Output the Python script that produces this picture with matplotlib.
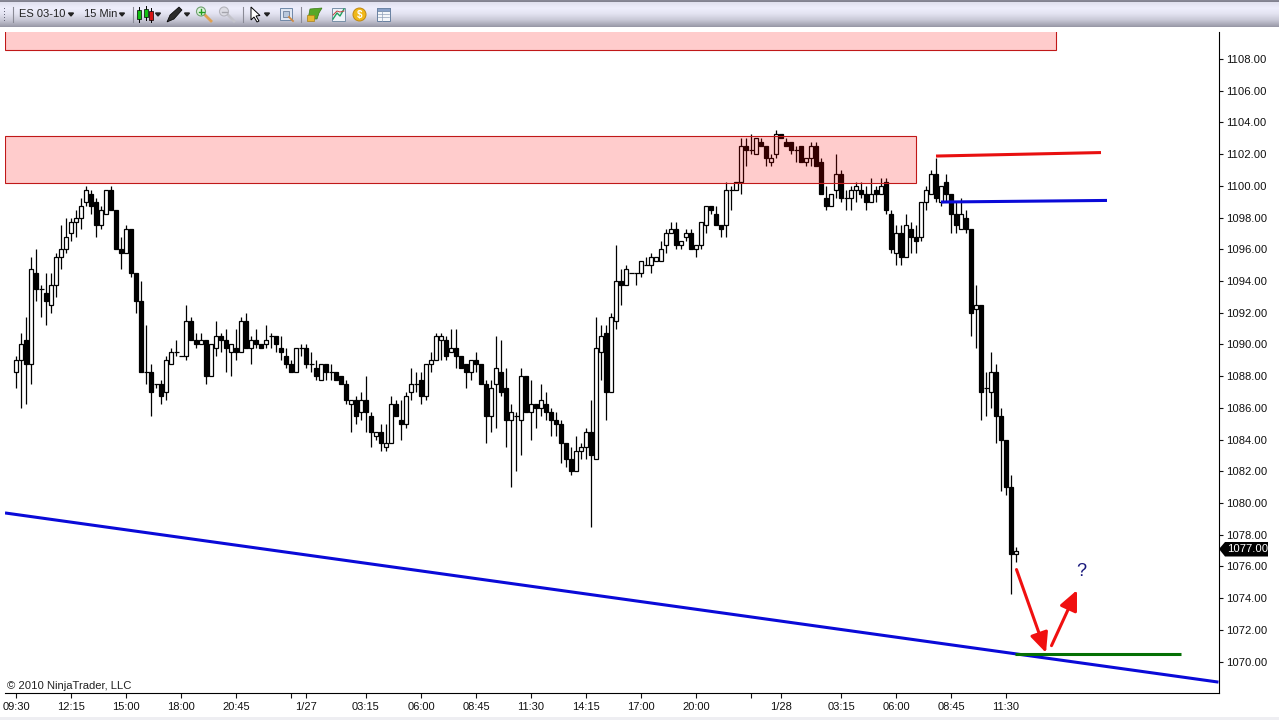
import numpy as np
import matplotlib
matplotlib.use('Agg')
from matplotlib import pyplot as plt
from matplotlib.patches import Rectangle, Polygon, Circle, FancyArrowPatch

plt.rcParams['font.family'] = ['Liberation Sans', 'DejaVu Sans']

# one row per 15 min bar: open, high, low, close
ohlc = [
    (1088.25,1089.25,1087.25,1089), (1089,1090.75,1086,1090), (1090.25,1091.75,1086.25,1088.75), (1088.75,1095.5,1087.5,1094.75),
    (1094.5,1096,1092.75,1093.5), (1093.5,1093.75,1091.75,1093.5), (1093.25,1094.5,1091.25,1092.75), (1092.5,1094.5,1092,1093.75),
    (1093.75,1095.75,1093,1095.5), (1095.5,1097.5,1094.75,1096), (1096,1098,1095.75,1096.75), (1097,1098,1096.5,1097.75),
    (1097.75,1098.5,1096.75,1098), (1098,1099.25,1097.25,1098.75), (1099,1100,1098.75,1099.75), (1099.5,1099.75,1098.25,1098.75),
    (1099,1099.25,1096.75,1097.5), (1097.5,1098.75,1097.25,1098.5), (1098.25,1099.75,1098.25,1099.75), (1099.75,1100,1098.5,1098.5),
    (1098.5,1098.5,1096,1096), (1096,1096.75,1094.75,1095.75), (1095.75,1097.5,1095.75,1097.25), (1097.25,1097.25,1094.25,1094.5),
    (1094.5,1094.5,1092,1092.75), (1092.75,1094,1088.25,1088.25), (1088.25,1091.25,1087.5,1088.25), (1088.25,1088.75,1085.5,1087),
    (1087.5,1087.5,1087.25,1087.5), (1087.5,1087.75,1086.25,1086.75), (1087,1089.25,1086.5,1089), (1088.75,1089.75,1088.75,1089.5),
    (1089.5,1090.25,1089.25,1089.5), (1089.25,1089.25,1089.25,1089.25), (1089.25,1092.5,1089,1091.5), (1091.5,1091.75,1090.25,1090.25),
    (1090.25,1090.75,1089.75,1090), (1090,1090.75,1090,1090.25), (1090.25,1090.25,1087.5,1088), (1088,1090,1088,1090),
    (1089.75,1091.5,1089.25,1090.5), (1090.5,1090.75,1089.5,1090.25), (1090.25,1091,1088.25,1089.75), (1089.5,1090,1088,1090),
    (1089.75,1091,1089,1089.5), (1089.5,1091.75,1089.5,1091.5), (1091.5,1092,1089.75,1089.75), (1089.75,1090.5,1088.75,1090.25),
    (1090.25,1091,1089.75,1090), (1090,1090,1089.75,1089.75), (1090,1091.25,1089.75,1090.25), (1090.5,1090.75,1089.75,1090.5),
    (1090.5,1090.5,1089.5,1090), (1089.75,1090.5,1089,1089.5), (1089.25,1089.75,1088.5,1088.75), (1088.75,1089,1088.25,1088.25),
    (1088.25,1089.75,1088.25,1089.75), (1089.75,1090,1089.25,1089.75), (1089.75,1090,1088.5,1088.75), (1088.75,1089.5,1088.25,1088.75),
    (1088.5,1089,1087.75,1088), (1087.75,1088.75,1087.75,1088.75), (1088.75,1088.75,1087.75,1088.25), (1088.25,1088.75,1087.75,1088.25),
    (1088.25,1088.25,1087.75,1087.75), (1088,1088,1087.5,1087.5), (1087.5,1087.75,1086.25,1086.5), (1086.25,1086.5,1084.5,1086.5),
    (1086.5,1086.75,1085,1085.5), (1085.75,1087,1085.25,1086.5), (1086.5,1088,1084.5,1085.75), (1085.5,1085.75,1083.5,1084.5),
    (1084.25,1084.5,1084,1084.5), (1084.5,1085,1083.25,1083.75), (1083.5,1085,1083.25,1083.75), (1083.75,1086.75,1083.75,1086.25),
    (1086.25,1086.5,1085.5,1085.5), (1085.25,1086.5,1084,1085), (1085,1087,1084.75,1086.75), (1087,1088.5,1086.5,1087.5),
    (1087.5,1088.25,1087,1087.5), (1087.75,1088.25,1086.25,1086.75), (1086.75,1088.75,1086.5,1088.75), (1088.75,1089.5,1088.25,1089),
    (1089,1090.75,1089,1090.5), (1090.25,1090.75,1089,1090.5), (1090.25,1090.5,1089,1089.25), (1089.5,1091,1089.5,1089.75),
    (1089.75,1091,1088.5,1089.25), (1089.25,1089.25,1088.5,1088.5), (1088.75,1088.75,1087.25,1088.25), (1088.25,1089,1087.75,1089),
    (1089,1089.5,1088.25,1088.75), (1088.75,1088.75,1087.5,1087.5), (1087.5,1087.75,1083.75,1085.5), (1085.5,1087.75,1084.5,1087.25),
    (1087.5,1090.5,1084.75,1088.5), (1088.25,1090.25,1086.75,1087), (1087.25,1088.5,1083.5,1085.25), (1085.25,1086.25,1081,1085.75),
    (1085.5,1085.75,1082,1085.5), (1085.25,1088.5,1083,1088), (1088,1088,1085.75,1085.75), (1085.75,1087.75,1084,1086.25),
    (1086.25,1086.25,1084.75,1086), (1086,1087.5,1085.5,1086.5), (1086.25,1087,1085.25,1085.75), (1085.75,1086,1084.25,1085.25),
    (1085.25,1085.75,1084.25,1085), (1085,1085.25,1082.5,1083.75), (1083.75,1083.75,1082.25,1082.75), (1082.75,1083.5,1081.75,1082),
    (1082,1084.25,1082,1083.25), (1083.25,1083.75,1082.75,1083.5), (1083.5,1084.75,1082.75,1084.5), (1084.5,1086.5,1078.5,1083),
    (1082.75,1091.75,1082.75,1089.75), (1089.5,1091.25,1087.75,1090.5), (1090.75,1091.25,1085.25,1087), (1087,1092,1087,1091.75),
    (1091.5,1096.25,1091,1094), (1094,1094.75,1092.5,1093.75), (1093.75,1095,1093.75,1094.75), (1094.5,1094.5,1094.5,1094.5),
    (1094.5,1094.5,1093.75,1094.5), (1094.5,1095.25,1094.25,1095.25), (1095,1095.5,1095,1095), (1095,1095.75,1094.5,1095.5),
    (1095.25,1095.5,1095.25,1095.5), (1095.25,1096.5,1095.25,1096), (1096.25,1097.25,1095.75,1097), (1097,1097.75,1097,1097.25),
    (1097.25,1097.75,1096,1096.25), (1096.25,1096.5,1096,1096.5), (1096.75,1097.25,1096.5,1097), (1097,1097.25,1096,1096),
    (1096,1096.25,1095.5,1096.25), (1096.25,1097.75,1096,1097.75), (1097.5,1098.75,1097,1098.75), (1098.75,1098.75,1098.25,1098.5),
    (1098.25,1098.75,1097.5,1097.5), (1097.5,1097.5,1096.75,1097.25), (1097.5,1100.25,1096.75,1099.75), (1099.75,1100,1098.5,1099.75),
    (1099.75,1100.25,1099.75,1100.25), (1100.25,1103,1099.5,1102.5), (1102.5,1103,1101.25,1102.25), (1102.25,1103.25,1102,1102.25),
    (1102,1103,1102,1103), (1102.75,1103,1102.5,1102.5), (1102.5,1102.5,1101.25,1101.75), (1101.5,1102,1101.25,1101.75),
    (1102,1103.5,1101.75,1103.25), (1103.25,1103.25,1103,1103), (1102.75,1103,1102.5,1102.5), (1102.75,1102.75,1102,1102.25),
    (1102.25,1102.5,1101.5,1102.25), (1102.5,1102.5,1101.5,1101.5), (1101.5,1101.75,1101.25,1101.75), (1101.75,1102.75,1101.25,1102.5),
    (1102.5,1102.75,1101.25,1101.25), (1101.5,1101.75,1099.5,1099.5), (1099.25,1100,1098.5,1098.75), (1098.75,1099.5,1098.75,1099.5),
    (1099.75,1102,1099.25,1100.75), (1100.75,1101,1099,1099.25), (1099.25,1099.75,1098.5,1099.25), (1099.25,1100,1098.5,1099.75),
    (1099.75,1100.25,1099,1100), (1099.75,1100.25,1099.25,1099.5), (1099.5,1100,1098.5,1099), (1099,1100.5,1099,1099.5),
    (1099.75,1100,1099,1099.5), (1099.5,1100.5,1099.5,1100), (1100.25,1100.5,1098.25,1098.5), (1098.25,1098.5,1095.75,1096),
    (1095.75,1097.5,1095,1097), (1097,1097.5,1095,1095.5), (1095.5,1098.25,1095.5,1097.5), (1097.25,1097.75,1095.75,1096.75),
    (1096.75,1097.5,1095.75,1096.5), (1096.75,1099,1096.5,1099), (1099,1100,1098.5,1099.75), (1099.5,1101,1099.5,1100.75),
    (1100.75,1101.75,1099,1099.25), (1099,1100,1098.75,1100), (1100.25,1100.75,1099,1099.5), (1099.5,1099.5,1097,1098.25),
    (1098.25,1099,1097,1097.5), (1097.25,1099.25,1097.25,1098.25), (1098,1098.5,1097,1097.25), (1097.25,1097.25,1090.5,1092),
    (1092.25,1093.75,1089.75,1092.5), (1092.5,1092.5,1085.25,1087), (1087.25,1088.25,1085.5,1087.25), (1087,1089.5,1086,1088.25),
    (1088.25,1088.75,1083.75,1085.5), (1085.5,1086,1080.75,1084), (1084,1084,1080.5,1081), (1081,1081.75,1074.25,1076.75),
    (1076.75,1077.25,1076.25,1077),
]
opens = [b[0] for b in ohlc]
highs = [b[1] for b in ohlc]
lows = [b[2] for b in ohlc]
closes = [b[3] for b in ohlc]

time_ticks = [0, 11, 22, 33, 44, 55, 58, 70, 81, 92, 103, 114, 125, 136, 147, 153, 165, 176, 187, 198]
time_labels = ['09:30', '12:15', '15:00', '18:00', '20:45', '', '1/27', '03:15', '06:00', '08:45', '11:30', '14:15',
               '17:00', '20:00', '', '1/28', '03:15', '06:00', '08:45', '11:30']
price_ticks = list(range(1070, 1110, 2))
last_price = 1077.0

W, H = 1279, 720

def fx(x):
    return x / W

def fy(y):
    return 1 - y / H

fig = plt.figure(figsize=(W / 100, H / 100), dpi=100, facecolor='white')

# chart area 5..1218 x 32..692, x = 16 + 5*bar, y = 661.5 at 1070, 15.855 px per point
ax = fig.add_axes([fx(5), fy(692.5), (1218.5 - 5) / W, (692.5 - 32) / H])
ax.set_xlim((5 - 16) / 5, (1218.5 - 16) / 5)
ax.set_ylim(1070 - 31 / 15.855, 1070 + 629.5 / 15.855)
for s in ['top', 'left']:
    ax.spines[s].set_visible(False)
ax.spines['right'].set_linewidth(0.8)
ax.spines['bottom'].set_linewidth(0.8)
ax.yaxis.tick_right()
ax.set_yticks(price_ticks)
ax.set_yticklabels(['%.2f' % p for p in price_ticks])
ax.set_xticks(time_ticks)
ax.set_xticklabels(time_labels)
ax.tick_params(axis='y', length=3.2, width=0.8, pad=2.5, labelsize=8.1, colors='#111111')
ax.tick_params(axis='x', length=3.6, width=0.8, pad=3, labelsize=8, colors='#111111')

# candles
idx = np.arange(len(opens))
o = np.array(opens, dtype=float)
h = np.array(highs, dtype=float)
l = np.array(lows, dtype=float)
c = np.array(closes, dtype=float)
ax.vlines(idx, l, h, color='black', linewidth=0.9, zorder=2)
up = c > o
down = c < o
flat = c == o
ax.bar(idx[down], (o - c)[down], bottom=c[down], width=0.78, facecolor='black', edgecolor='black', linewidth=0.9, zorder=3)
ax.bar(idx[up], (c - o)[up], bottom=o[up], width=0.78, facecolor='white', edgecolor='black', linewidth=0.9, zorder=3)
ax.hlines(c[flat], idx[flat] - 0.5, idx[flat] + 0.5, color='black', linewidth=0.9, zorder=3)

# supply zones sit over the candles
ax.add_patch(Rectangle((-2.2, 1100.18), 182.2, 2.96, facecolor=(1, 0, 0, 0.2), edgecolor='#c01818', linewidth=0.8, zorder=4))
ax.add_patch(Rectangle((-2.2, 1108.57), 210.2, 3, facecolor=(1, 0, 0, 0.2), edgecolor='#c01818', linewidth=0.8, zorder=4))

# drawn lines
ax.plot([184, 217], [1101.88, 1102.1], color='#e81010', lw=2.2, solid_capstyle='butt', zorder=5)
ax.plot([185, 218.2], [1098.98, 1099.08], color='#0a0ad8', lw=2.2, solid_capstyle='butt', zorder=5)
ax.plot([-2.2, 240.5], [1079.37, 1068.7], color='#0a0ad8', lw=2.2, solid_capstyle='butt', zorder=5)
ax.plot([199.8, 233], [1070.45, 1070.45], color='#057005', lw=2.2, solid_capstyle='butt', zorder=5)

# arrows
for start, tip in [((200.1, 1075.8), ((1046 - 16) / 5, 1070.55)), ((207.1, 1071.0), ((1077 - 16) / 5, 1074.5))]:
    ax.add_patch(FancyArrowPatch(start, tip, arrowstyle='-|>,head_length=12,head_width=5.5', mutation_scale=1,
                                 color='#f01010', lw=2.2, shrinkA=0, shrinkB=0, zorder=6))
ax.text(213, 1075.7, '?', color='#18187c', fontsize=13, ha='center', va='center', zorder=6)

fig.text(fx(7), fy(686), '\u00a9 2010 NinjaTrader, LLC', fontsize=8.1, color='#222222', va='center', ha='left')

# last price marker
fig.add_artist(Polygon([(fx(1219), fy(549)), (fx(1225), fy(542)), (fx(1268), fy(542)), (fx(1268), fy(556.5)), (fx(1225), fy(556.5))],
                       closed=True, facecolor='black', edgecolor='none', transform=fig.transFigure))
fig.text(fx(1226.7), fy(549.3), '%.2f' % last_price, fontsize=8.1, color='white', va='center', ha='left')

# toolbar
tb = fig.add_axes([0, fy(27), 1, 27 / H])
tb.axis('off')
stops = [0, 1.5, 2.5, 8, 14, 20, 25, 27]
cols = [138, 130, 225, 238, 226, 200, 165, 150]
ys = np.arange(0, 27) + 0.5
r = np.interp(ys, stops, cols)
grad = np.stack([r / 255, r / 255, np.clip(r + 14, 0, 255) / 255], axis=1)[:, None, :]
tb.imshow(grad, extent=[0, W, 27, 0], aspect='auto', zorder=0)
tb.set_xlim(0, W)
tb.set_ylim(27, 0)

for y in [8, 11, 14, 17, 20]:
    tb.add_patch(Rectangle((3.5, y), 1.2, 1.2, facecolor='#66667a', edgecolor='none', zorder=1))
for x in [12.5, 132.5, 243, 301]:
    tb.plot([x, x], [7, 22], color='#8a8a96', lw=0.8, zorder=1)
tb.text(19, 14.3, 'ES 03-10', fontsize=8, color='#222222', va='center', ha='left')
tb.text(84, 14.3, '15 Min', fontsize=8, color='#222222', va='center', ha='left')
for x in [71, 122, 158, 187, 267]:
    tb.add_patch(Polygon([(x - 2.5, 13), (x + 2.5, 13), (x, 16)], color='#222222', zorder=1))
# candle icon
tb.plot([139, 139], [7, 22], color='black', lw=0.7, zorder=1)
tb.add_patch(Rectangle((137, 10), 4, 9, facecolor='#12c012', edgecolor='black', lw=0.5, zorder=2))
tb.plot([145.5, 145.5], [6, 20], color='black', lw=0.7, zorder=1)
tb.add_patch(Rectangle((143.5, 9), 4, 8, facecolor='#12c012', edgecolor='black', lw=0.5, zorder=2))
tb.plot([151, 151], [8, 22], color='black', lw=0.7, zorder=1)
tb.add_patch(Rectangle((149, 11), 4, 9, facecolor='#d81414', edgecolor='black', lw=0.5, zorder=2))
# pen
tb.add_patch(Polygon([(167, 22), (170, 15), (179, 7), (182, 10), (174, 19)], facecolor='#2c2c2c', edgecolor='black', lw=0.5, zorder=2))
# magnifiers
tb.plot([204, 211], [14, 21], color='#e0a050', lw=2, zorder=1)
tb.add_patch(Circle((201, 11.5), 4.5, facecolor='#dff2df', edgecolor='#70a070', lw=0.8, zorder=2))
tb.plot([198.5, 203.5], [11.5, 11.5], color='#20a020', lw=1, zorder=3)
tb.plot([201, 201], [9, 14], color='#20a020', lw=1, zorder=3)
tb.plot([227, 234], [14, 21], color='#c4c4cc', lw=2, zorder=1)
tb.add_patch(Circle((224, 11.5), 4.5, facecolor='#dcdce4', edgecolor='#b4b4bc', lw=0.8, zorder=2))
tb.plot([221.5, 226.5], [11.5, 11.5], color='#a4a4ac', lw=1, zorder=3)
# cursor
tb.add_patch(Polygon([(251, 7), (251, 20), (254, 17), (257, 22), (259, 21), (256, 16), (260, 15.5)],
                     facecolor='white', edgecolor='black', lw=0.7, zorder=2))
# properties, instruments, chart, coin, table
tb.add_patch(Rectangle((280, 8), 12, 12, facecolor='#dfe6f2', edgecolor='#6f88a8', lw=0.7, zorder=2))
tb.add_patch(Rectangle((283, 11), 6, 6, facecolor='#b8c8dc', edgecolor='#5a6f8c', lw=0.5, zorder=3))
tb.plot([289, 293], [17, 21], color='#d08a40', lw=1.3, zorder=3)
tb.add_patch(Polygon([(308, 19), (310, 9), (322, 8), (319, 13), (317, 19)], facecolor='#58a828', edgecolor='#3a7a18', lw=0.5, zorder=2))
tb.add_patch(Rectangle((307, 15), 7, 6, facecolor='#e8b830', edgecolor='#a88018', lw=0.5, zorder=3))
tb.add_patch(Rectangle((332, 8), 13, 13, facecolor='#eef2f8', edgecolor='#7890a8', lw=0.7, zorder=2))
tb.plot([333, 337, 340, 344], [19, 13, 16, 9], color='#20a060', lw=1, zorder=3)
tb.plot([333, 337, 340, 344], [15, 11, 12, 11], color='#c04040', lw=0.7, zorder=3)
tb.add_patch(Circle((359.5, 14.5), 6.5, facecolor='#f0b818', edgecolor='#c08810', lw=0.7, zorder=2))
tb.text(359.5, 14.7, '$', fontsize=7, color='white', fontweight='bold', ha='center', va='center', zorder=3)
tb.add_patch(Rectangle((377, 8), 13, 13, facecolor='#f4f6fa', edgecolor='#6880a0', lw=0.7, zorder=2))
tb.add_patch(Rectangle((377, 8), 13, 3, facecolor='#88a0c8', edgecolor='#6880a0', lw=0.5, zorder=3))
for y in [14, 17]:
    tb.plot([378, 389], [y, y], color='#90a0b8', lw=0.5, zorder=3)
tb.plot([382, 382], [11, 21], color='#90a0b8', lw=0.5, zorder=3)

# grey strip at the window bottom
fig.add_artist(Rectangle((0, 0), 1, 3.5 / H, facecolor='#eeeef2', edgecolor='none', transform=fig.transFigure))

fig.savefig('out.png', dpi=100, facecolor='white')
